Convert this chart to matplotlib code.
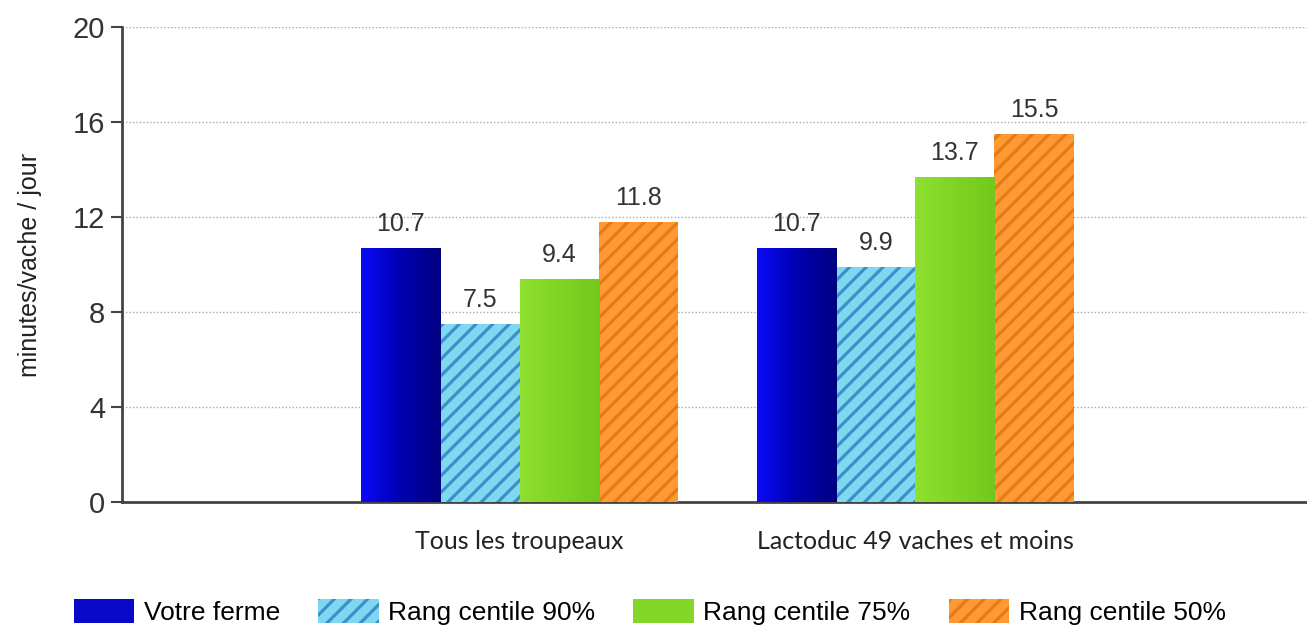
import matplotlib
matplotlib.use("Agg")
import matplotlib.pyplot as plt
import numpy as np
from matplotlib.colors import LinearSegmentedColormap

categories = ["Tous les troupeaux", "Lactoduc 49 vaches et moins"]
series_names = ["Votre ferme", "Rang centile 90%", "Rang centile 75%", "Rang centile 50%"]
votre_ferme = [10.7, 10.7]
rang_90 = [7.5, 9.9]
rang_75 = [9.4, 13.7]
rang_50 = [11.8, 15.5]
yticks = [0, 4, 8, 12, 16, 20]

values = [votre_ferme, rang_90, rang_75, rang_50]
faces = ["#0808c8", "#80d8f0", "#84d628", "#ff9a32"]
hatch_cols = [None, "#3a90c8", None, "#e57a1c"]
hatches = [None, "//", None, "//"]

plt.rcParams['font.family'] = ['Liberation Sans', 'DejaVu Sans']
plt.rcParams['hatch.linewidth'] = 2.3

fig = plt.figure(figsize=(13.07, 6.30), dpi=100)
ax = fig.add_axes([0.0933, 0.2032, 0.9067, 0.7540])

blue_cmap = LinearSegmentedColormap.from_list("bl", ["#0a0af5", "#0000b0", "#000080"])
green_cmap = LinearSegmentedColormap.from_list("gr", ["#8fe030", "#80d424", "#72c81c"])
grad = np.linspace(0, 1, 64).reshape(1, -1)

x = np.arange(len(categories))
w = 0.2
offsets = [-1.5, -0.5, 0.5, 1.5]
handles = []
for i, (vals, fc, hc, h, name) in enumerate(zip(values, faces, hatch_cols, hatches, series_names)):
    kw = dict(color=fc, linewidth=0, label=name, zorder=3)
    if h:
        kw.update(hatch=h, edgecolor=hc)
    bars = ax.bar(x + offsets[i] * w, vals, w, **kw)
    handles.append(bars)
    for b, v in zip(bars, vals):
        if i in (0, 2):
            cm = blue_cmap if i == 0 else green_cmap
            im = ax.imshow(grad, cmap=cm, aspect="auto", zorder=3.5,
                           extent=(b.get_x(), b.get_x() + b.get_width(), 0, b.get_height()))
            im.set_clip_path(b)
        ax.text(b.get_x() + b.get_width() / 2, v + 0.5, f"{v:.1f}",
                ha="center", va="bottom", fontsize=18, color="#333333", zorder=4)

ax.set_xlim(-1.005, 1.99)
ax.set_ylim(0, 20)
ax.set_yticks(yticks)
ax.set_yticklabels([str(t) for t in yticks], fontsize=21, color="#333333")
ax.set_xticks(x)
ax.set_xticklabels(categories, fontsize=18, color="#222222",
                   fontfamily=['Lato', 'DejaVu Sans'])
ax.tick_params(axis='x', length=0, pad=20)
ax.tick_params(axis='y', length=8, width=1.5, color="#444444", pad=4)
ax.yaxis.grid(True, linestyle=(0, (1, 1.5)), color="#aaaaaa", linewidth=1, zorder=0)
for s in ["top", "right"]:
    ax.spines[s].set_visible(False)
for s in ["left", "bottom"]:
    ax.spines[s].set_color("#444444")
    ax.spines[s].set_linewidth(2)
ax.set_ylabel("minutes/vache / jour", fontsize=18, color="#222222", labelpad=22)

fig.legend(handles=handles, labels=series_names, loc="center",
           bbox_to_anchor=(0.497, 0.028), ncol=4, frameon=False,
           fontsize=19, handlelength=2.3, handleheight=1.0,
           columnspacing=1.45, handletextpad=0.35)

fig.savefig("out.png", dpi=100)
